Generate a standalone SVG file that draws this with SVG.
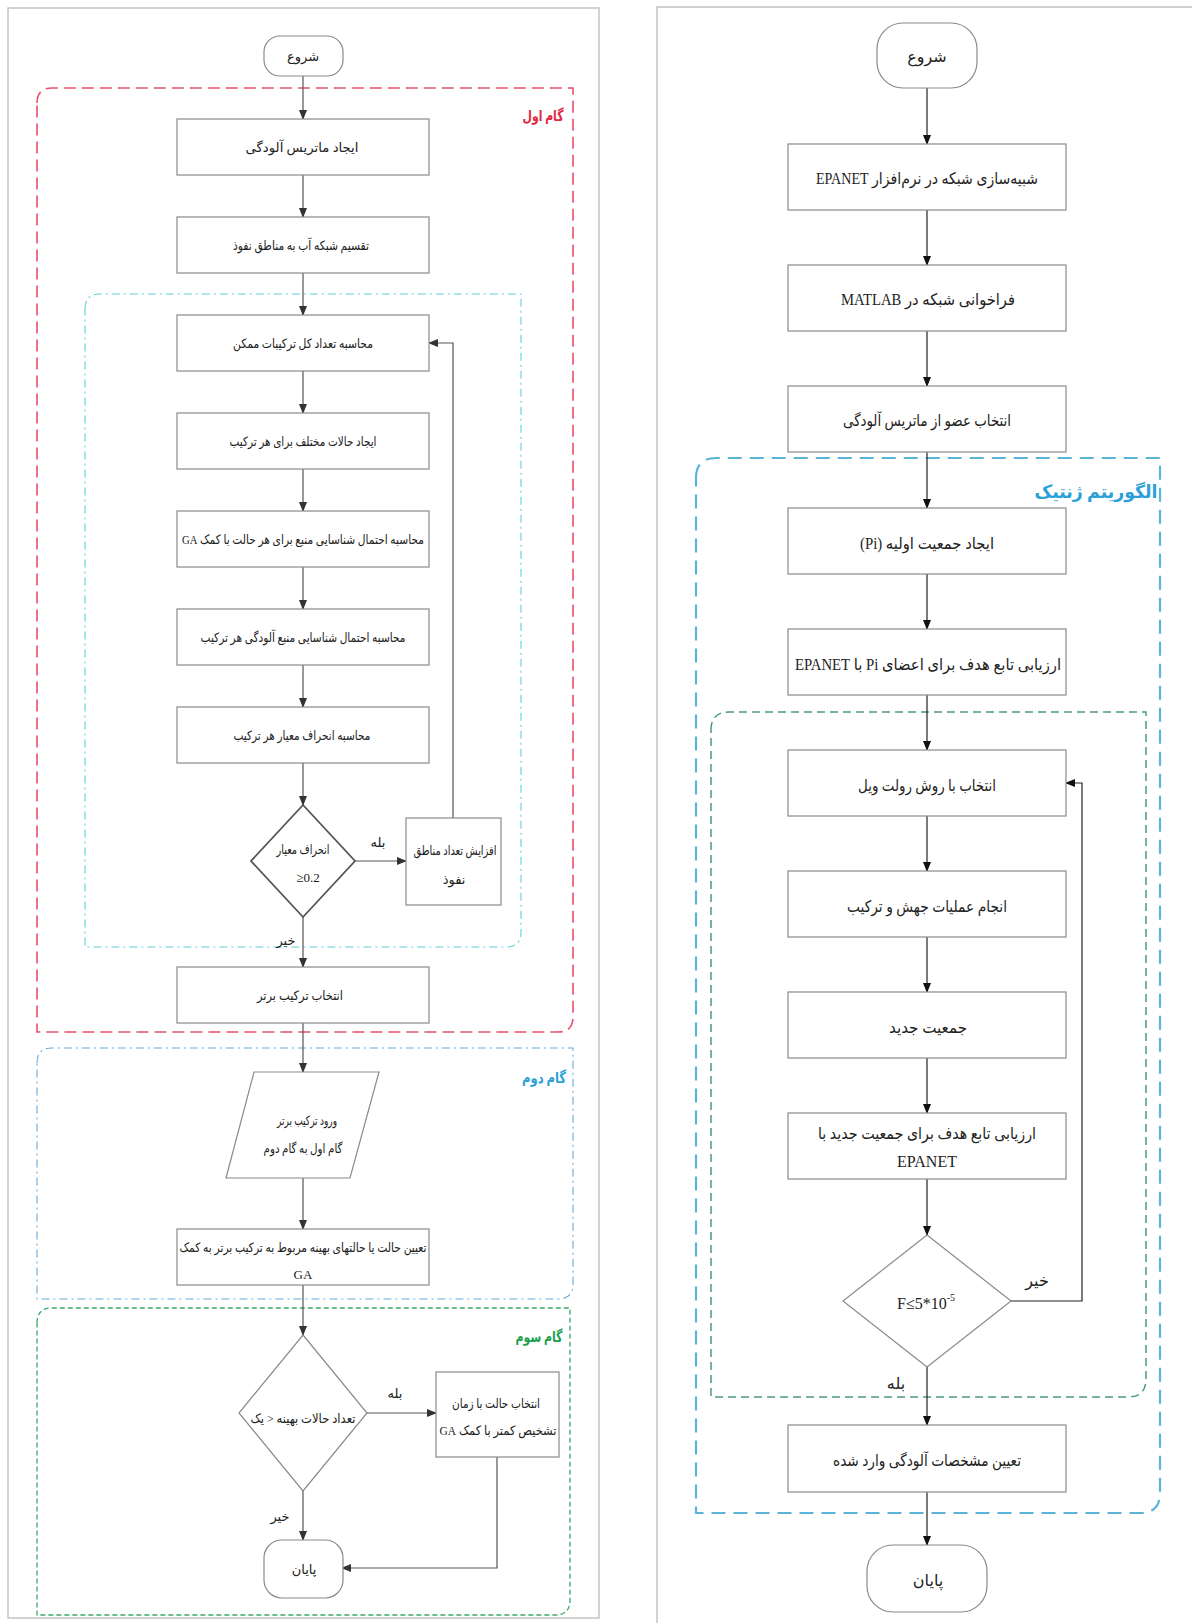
<svg xmlns="http://www.w3.org/2000/svg" width="1192" height="1623" viewBox="0 0 1192 1623">
<style>
text{font-family:"Liberation Serif","DejaVu Sans",serif;fill:#222;dominant-baseline:central}
.fa{direction:rtl;unicode-bidi:embed;text-anchor:middle}
.lt{font-size:13px}
.rt{font-size:16px}
.en{direction:ltr;text-anchor:middle}
.box{fill:#fff;stroke:#8a8a8a;stroke-width:1.2}
.term{fill:#fff;stroke:#8a8a8a;stroke-width:1.2}
.frame{fill:none;stroke:#c4c4c4;stroke-width:1.5}
.cl{fill:none;stroke:#555;stroke-width:1.2}
.cr{fill:none;stroke:#222;stroke-width:1.2}
.g-red{fill:none;stroke:#e8506a;stroke-width:1.6;stroke-dasharray:12 6}
.g-cyan{fill:none;stroke:#5cd0dc;stroke-width:1.1;stroke-dasharray:8 4 2 4}
.g-blue{fill:none;stroke:#6aaad8;stroke-width:1.1;stroke-dasharray:8 4 2 4}
.g-green{fill:none;stroke:#3aaa6a;stroke-width:1.3;stroke-dasharray:5 3}
.g-rcyan{fill:none;stroke:#5ab4d8;stroke-width:2.2;stroke-dasharray:14 8}
.g-rgreen{fill:none;stroke:#4a9a7a;stroke-width:1.5;stroke-dasharray:8 5}
.lbl{font-weight:bold;font-size:15px}
</style>
<defs>
<marker id="al" markerWidth="10" markerHeight="8" refX="9" refY="4" orient="auto" markerUnits="userSpaceOnUse"><path d="M0,0 L10,4 L0,8 Z" fill="#333"/></marker>
<marker id="ar" markerWidth="10" markerHeight="8" refX="9" refY="4" orient="auto" markerUnits="userSpaceOnUse"><path d="M0,0 L10,4 L0,8 Z" fill="#111"/></marker>
</defs>
<rect width="1192" height="1623" fill="#fff"/>

<!-- frames -->
<rect class="frame" x="8" y="8" width="591" height="1610"/>
<rect class="frame" x="657" y="7" width="560" height="1630"/>

<!-- group boxes -->
<g id="groups">
<path class="g-red" d="M37,103 Q37,88 52,88 H573 V1017 Q573,1032 558,1032 H37 Z"/>
<text class="fa lbl" x="543" y="116" textLength="41" lengthAdjust="spacingAndGlyphs" style="fill:#e02840">گام اول</text>
<path class="g-cyan" d="M85,309 Q85,294 100,294 H521 V932 Q521,947 506,947 H85 Z"/>
<path class="g-blue" d="M37,1063 Q37,1048 52,1048 H573 V1284 Q573,1299 558,1299 H37 Z"/>
<text class="fa lbl" x="544" y="1078" textLength="44" lengthAdjust="spacingAndGlyphs" style="fill:#2aa0d8">گام دوم</text>
<path class="g-green" d="M37,1323 Q37,1308 52,1308 H570 V1600 Q570,1615 555,1615 H37 Z"/>
<text class="fa lbl" x="539" y="1337" textLength="47" lengthAdjust="spacingAndGlyphs" style="fill:#20a050">گام سوم</text>
<path class="g-rcyan" d="M696,478 Q696,458 716,458 H1160 V1493 Q1160,1513 1140,1513 H696 Z"/>
<text class="fa lbl" x="1096" y="492" textLength="123" lengthAdjust="spacingAndGlyphs" style="fill:#2a9fd8;font-size:18px">الگوریتم ژنتیک</text>
<path class="g-rgreen" d="M711,730 Q711,712 729,712 H1146 V1379 Q1146,1397 1128,1397 H711 Z"/>
</g>

<!-- connectors -->
<g id="connectors">
<path class="cl" d="M303,76 V119" marker-end="url(#al)"/>
<path class="cl" d="M303,175 V217" marker-end="url(#al)"/>
<path class="cl" d="M303,273 V315" marker-end="url(#al)"/>
<path class="cl" d="M303,371 V413" marker-end="url(#al)"/>
<path class="cl" d="M303,469 V511" marker-end="url(#al)"/>
<path class="cl" d="M303,567 V609" marker-end="url(#al)"/>
<path class="cl" d="M303,665 V707" marker-end="url(#al)"/>
<path class="cl" d="M303,763 V805" marker-end="url(#al)"/>
<path class="cl" d="M355,861 H406" marker-end="url(#al)"/>
<path class="cl" d="M453,818 V343 H429" marker-end="url(#al)"/>
<path class="cl" d="M303,917 V967" marker-end="url(#al)"/>
<path class="cl" d="M303,1023 V1072" marker-end="url(#al)"/>
<path class="cl" d="M303,1178 V1229" marker-end="url(#al)"/>
<path class="cl" d="M303,1285 V1335" marker-end="url(#al)"/>
<path class="cl" d="M367,1413 H436" marker-end="url(#al)"/>
<path class="cl" d="M303,1491 V1540" marker-end="url(#al)"/>
<path class="cl" d="M497,1457 V1568 H342" marker-end="url(#al)"/>

<path class="cr" d="M927,88 V144" marker-end="url(#ar)"/>
<path class="cr" d="M927,210 V265" marker-end="url(#ar)"/>
<path class="cr" d="M927,331 V386" marker-end="url(#ar)"/>
<path class="cr" d="M927,452 V508" marker-end="url(#ar)"/>
<path class="cr" d="M927,574 V629" marker-end="url(#ar)"/>
<path class="cr" d="M927,695 V750" marker-end="url(#ar)"/>
<path class="cr" d="M927,816 V871" marker-end="url(#ar)"/>
<path class="cr" d="M927,937 V992" marker-end="url(#ar)"/>
<path class="cr" d="M927,1058 V1113" marker-end="url(#ar)"/>
<path class="cr" d="M927,1179 V1235" marker-end="url(#ar)"/>
<path class="cr" d="M1011,1301 H1082 V783 H1066" marker-end="url(#ar)"/>
<path class="cr" d="M927,1367 V1425" marker-end="url(#ar)"/>
<path class="cr" d="M927,1492 V1545" marker-end="url(#ar)"/>
</g>

<!-- left nodes -->
<g id="l-start"><rect class="term" x="264" y="36" width="79" height="40" rx="16"/><text class="fa lt" x="303" y="56">شروع</text></g>
<g id="l-b1"><rect class="box" x="177" y="119" width="252" height="56"/><text class="fa lt" x="302" y="147" textLength="113" lengthAdjust="spacingAndGlyphs">ایجاد ماتریس آلودگی</text></g>
<g id="l-b2"><rect class="box" x="177" y="217" width="252" height="56"/><text class="fa lt" x="301" y="245" textLength="136" lengthAdjust="spacingAndGlyphs">تقسیم شبکه آب به مناطق نفوذ</text></g>
<g id="l-b3"><rect class="box" x="177" y="315" width="252" height="56"/><text class="fa lt" x="303" y="343" textLength="140" lengthAdjust="spacingAndGlyphs">محاسبه تعداد کل ترکیبات ممکن</text></g>
<g id="l-b4"><rect class="box" x="177" y="413" width="252" height="56"/><text class="fa lt" x="303" y="441" textLength="147" lengthAdjust="spacingAndGlyphs">ایجاد حالات مختلف برای هر ترکیب</text></g>
<g id="l-b5"><rect class="box" x="177" y="511" width="252" height="56"/><text class="fa lt" x="303" y="539" textLength="242" lengthAdjust="spacingAndGlyphs">محاسبه احتمال شناسایی منبع برای هر حالت با کمک GA</text></g>
<g id="l-b6"><rect class="box" x="177" y="609" width="252" height="56"/><text class="fa lt" x="303" y="637" textLength="205" lengthAdjust="spacingAndGlyphs">محاسبه احتمال شناسایی منبع آلودگی هر ترکیب</text></g>
<g id="l-b7"><rect class="box" x="177" y="707" width="252" height="56"/><text class="fa lt" x="302" y="735" textLength="137" lengthAdjust="spacingAndGlyphs">محاسبه انحراف معیار هر ترکیب</text></g>
<g id="l-d1"><path class="box" d="M303,805 L355,861 L303,917 L251,861 Z" style="stroke:#555;stroke-width:1.8"/><text class="fa lt" x="303" y="849" textLength="53" lengthAdjust="spacingAndGlyphs">انحراف معیار</text><text class="en lt" x="308" y="877">≥0.2</text></g>
<text class="fa lt" x="378" y="842">بله</text>
<g id="l-b8"><rect class="box" x="406" y="818" width="95" height="87"/><text class="fa lt" x="455" y="850" textLength="83" lengthAdjust="spacingAndGlyphs">افزایش تعداد مناطق</text><text class="fa lt" x="454" y="879">نفوذ</text></g>
<text class="fa lt" x="286" y="940">خیر</text>
<g id="l-b9"><rect class="box" x="177" y="967" width="252" height="56"/><text class="fa lt" x="300" y="995" textLength="86" lengthAdjust="spacingAndGlyphs">انتخاب ترکیب برتر</text></g>
<g id="l-io"><path class="box" d="M254,1072 H379 L350,1178 H226 Z"/><text class="fa lt" x="307" y="1120" textLength="60" lengthAdjust="spacingAndGlyphs">ورود ترکیب برتر</text><text class="fa lt" x="303" y="1148" textLength="79" lengthAdjust="spacingAndGlyphs">گام اول به گام دوم</text></g>
<g id="l-b10"><rect class="box" x="177" y="1229" width="252" height="56"/><text class="fa lt" x="303" y="1247" textLength="247" lengthAdjust="spacingAndGlyphs">تعیین حالت یا حالتهای بهینه مربوط به ترکیب برتر به کمک</text><text class="en lt" x="303" y="1274">GA</text></g>
<g id="l-d2"><path class="box" d="M303,1335 L367,1413 L303,1491 L239,1413 Z"/><text class="fa lt" x="303" y="1418" textLength="105" lengthAdjust="spacingAndGlyphs">تعداد حالات بهینه &#x200E;&gt;&#x200E; یک</text></g>
<text class="fa lt" x="395" y="1393">بله</text>
<g id="l-b11"><rect class="box" x="436" y="1372" width="123" height="85"/><text class="fa lt" x="496" y="1403" textLength="88" lengthAdjust="spacingAndGlyphs">انتخاب حالت با زمان</text><text class="fa lt" x="498" y="1430" textLength="117" lengthAdjust="spacingAndGlyphs">تشخیص کمتر با کمک GA</text></g>
<text class="fa lt" x="280" y="1516">خیر</text>
<g id="l-end"><rect class="term" x="264" y="1540" width="79" height="58" rx="18"/><text class="fa lt" x="304" y="1569">پایان</text></g>

<!-- right nodes -->
<g id="r-start"><rect class="term" x="877" y="23" width="100" height="65" rx="26"/><text class="fa rt" x="927" y="56">شروع</text></g>
<g id="r-b1"><rect class="box" x="788" y="144" width="278" height="66"/><text class="fa rt" x="927" y="178" textLength="222" lengthAdjust="spacingAndGlyphs">شبیه‌سازی شبکه در نرم‌افزار EPANET</text></g>
<g id="r-b2"><rect class="box" x="788" y="265" width="278" height="66"/><text class="fa rt" x="928" y="299" textLength="174" lengthAdjust="spacingAndGlyphs">فراخوانی شبکه در MATLAB</text></g>
<g id="r-b3"><rect class="box" x="788" y="386" width="278" height="66"/><text class="fa rt" x="927" y="420" textLength="168" lengthAdjust="spacingAndGlyphs">انتخاب عضو از ماتریس آلودگی</text></g>
<g id="r-b4"><rect class="box" x="788" y="508" width="278" height="66"/><text class="fa rt" x="927" y="543" textLength="134" lengthAdjust="spacingAndGlyphs">ایجاد جمعیت اولیه (Pi)</text></g>
<g id="r-b5"><rect class="box" x="788" y="629" width="278" height="66"/><text class="fa rt" x="928" y="664" textLength="266" lengthAdjust="spacingAndGlyphs">ارزیابی تابع هدف برای اعضای Pi با EPANET</text></g>
<g id="r-b6"><rect class="box" x="788" y="750" width="278" height="66"/><text class="fa rt" x="927" y="785" textLength="138" lengthAdjust="spacingAndGlyphs">انتخاب با روش رولت ویل</text></g>
<g id="r-b7"><rect class="box" x="788" y="871" width="278" height="66"/><text class="fa rt" x="927" y="906" textLength="160" lengthAdjust="spacingAndGlyphs">انجام عملیات جهش و ترکیب</text></g>
<g id="r-b8"><rect class="box" x="788" y="992" width="278" height="66"/><text class="fa rt" x="928" y="1027" textLength="78" lengthAdjust="spacingAndGlyphs">جمعیت جدید</text></g>
<g id="r-b9"><rect class="box" x="788" y="1113" width="278" height="66"/><text class="fa rt" x="927" y="1133" textLength="218" lengthAdjust="spacingAndGlyphs">ارزیابی تابع هدف برای جمعیت جدید با</text><text class="en rt" x="927" y="1161">EPANET</text></g>
<g id="r-d"><path class="box" d="M927,1235 L1011,1301 L927,1367 L843,1301 Z"/><text class="en rt" x="926" y="1303">F≤5*10<tspan font-size="10" dy="-6">-5</tspan></text></g>
<text class="fa rt" x="1037" y="1280">خیر</text>
<text class="fa rt" x="896" y="1383">بله</text>
<g id="r-b10"><rect class="box" x="788" y="1425" width="278" height="67"/><text class="fa rt" x="927" y="1460" textLength="188" lengthAdjust="spacingAndGlyphs">تعیین مشخصات آلودگی وارد شده</text></g>
<g id="r-end"><rect class="term" x="867" y="1545" width="120" height="67" rx="26"/><text class="fa rt" x="928" y="1580">پایان</text></g>
</svg>
